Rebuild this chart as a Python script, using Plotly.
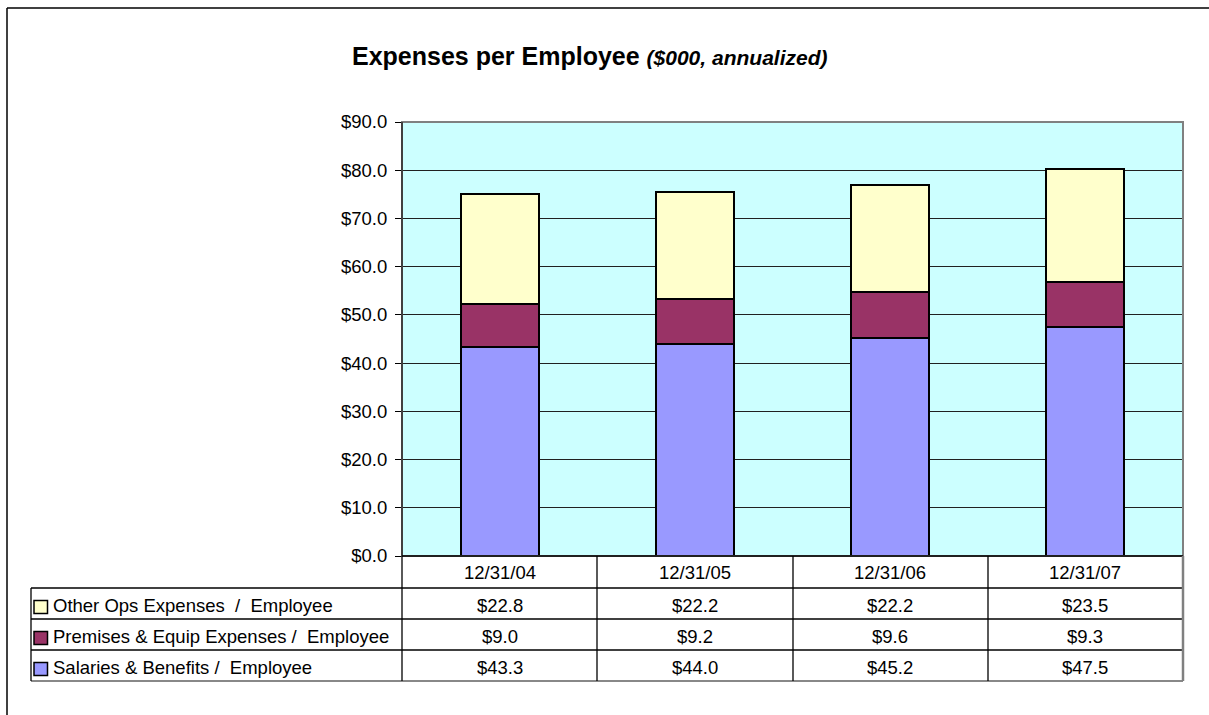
import plotly.graph_objects as go

# Expense components per employee ($000, annualized)
periods = ["12/31/04", "12/31/05", "12/31/06", "12/31/07"]
salaries = [43.3, 44.0, 45.2, 47.5]
premises = [9.0, 9.2, 9.6, 9.3]
other_ops = [22.8, 22.2, 22.2, 23.5]

series_names = [
    "Other Ops Expenses&nbsp; /&nbsp; Employee",
    "Premises &amp; Equip Expenses /&nbsp; Employee",
    "Salaries &amp; Benefits /&nbsp; Employee",
]
series_values = [other_ops, premises, salaries]
series_colors = ["#FFFFCC", "#993366", "#9999FF"]

y_ticks = [0, 10, 20, 30, 40, 50, 60, 70, 80, 90]

W, H = 1209, 715
PL, PR, PT, PB = 402, 1183, 122, 556   # plot-area box in pixels
FONT = "Arial, Liberation Sans, sans-serif"
FS = 18.5


def fx(px):
    return (px - PL) / (PR - PL)


def fy(py):
    return (PB - py) / (PB - PT)


fig = go.Figure()
# stacked bars, bottom to top
for name, vals, col in zip(series_names[::-1], series_values[::-1], series_colors[::-1]):
    fig.add_trace(go.Bar(
        x=periods, y=vals, name=name, width=0.4,
        marker=dict(color=col, line=dict(color="black", width=2)),
        hoverinfo="y",
    ))

shapes = []
annotations = []

# plot-area frame (top/right grey) and left axis
shapes.append(dict(type="rect", xref="paper", yref="paper", x0=0, x1=1, y0=0, y1=1,
                   line=dict(color="#808080", width=2), layer="above"))
shapes.append(dict(type="line", xref="paper", yref="paper", x0=0, x1=0, y0=0, y1=1,
                   line=dict(color="#404040", width=2), layer="above"))

# data table grid
row_edges = [556, 588, 619, 650, 681]
col_edges = [402, 597, 793, 988, 1183]
line_k = dict(color="black", width=1.3)
for i, ry in enumerate(row_edges):
    x0 = PL if i == 0 else 31
    shapes.append(dict(type="line", xref="paper", yref="paper",
                       x0=fx(x0), x1=fx(PR), y0=fy(ry), y1=fy(ry),
                       line=dict(color="#606060" if i == len(row_edges) - 1 else "black", width=1.5)))
for cx in col_edges[:-1]:
    shapes.append(dict(type="line", xref="paper", yref="paper",
                       x0=fx(cx), x1=fx(cx), y0=fy(556), y1=fy(681), line=line_k))
shapes.append(dict(type="line", xref="paper", yref="paper",
                   x0=fx(PR), x1=fx(PR), y0=fy(556), y1=fy(681),
                   line=dict(color="#808080", width=2.5)))
shapes.append(dict(type="line", xref="paper", yref="paper",
                   x0=fx(31), x1=fx(31), y0=fy(588), y1=fy(681), line=line_k))

# category header row
for i, p in enumerate(periods):
    annotations.append(dict(x=i, xref="x", y=fy((row_edges[0] + row_edges[1]) / 2), yref="paper",
                            text=p, showarrow=False, xanchor="center", yanchor="middle",
                            font=dict(family=FONT, size=FS, color="black")))

# series rows: legend key, name and values
for r, (name, vals, col) in enumerate(zip(series_names, series_values, series_colors)):
    top, bot = row_edges[r + 1], row_edges[r + 2]
    mid = (top + bot) / 2 + 2
    shapes.append(dict(type="rect", xref="paper", yref="paper",
                       x0=fx(34), x1=fx(47.5), y0=fy(mid + 8), y1=fy(mid - 5),
                       fillcolor=col, line=dict(color="black", width=1.5)))
    annotations.append(dict(x=fx(51), xref="paper", y=fy(mid), yref="paper",
                            text=name, showarrow=False, xanchor="left", yanchor="middle",
                            font=dict(family=FONT, size=FS, color="black")))
    for i, v in enumerate(vals):
        annotations.append(dict(x=i, xref="x", y=fy(mid), yref="paper",
                                text=f"${v:.1f}", showarrow=False, xanchor="center", yanchor="middle",
                                font=dict(family=FONT, size=FS, color="black")))

# outer chart border (left and top edges)
shapes.append(dict(type="line", xref="paper", yref="paper",
                   x0=fx(7), x1=fx(7), y0=fy(8), y1=fy(H + 5),
                   line=dict(color="black", width=1.5)))
shapes.append(dict(type="line", xref="paper", yref="paper",
                   x0=fx(7), x1=fx(W + 5), y0=fy(8), y1=fy(8),
                   line=dict(color="black", width=1.5)))

# title
annotations.append(dict(
    x=fx(589), xref="paper", y=fy(56), yref="paper", showarrow=False,
    xanchor="center", yanchor="middle",
    text="<b>Expenses per Employee</b> <b><i><span style='font-size:21px'>($000, annualized)</span></i></b>",
    font=dict(family=FONT, size=25, color="black"),
))

fig.update_layout(
    width=W, height=H,
    margin=dict(l=PL, r=W - PR, t=PT, b=H - PB, pad=0),
    paper_bgcolor="white", plot_bgcolor="#CCFFFF",
    barmode="stack", bargap=0.6, showlegend=False,
    shapes=shapes, annotations=annotations,
    font=dict(family=FONT, size=FS, color="black"),
    xaxis=dict(type="category", range=[-0.5, 3.5], showticklabels=False,
               showgrid=False, zeroline=False, showline=False, ticks="", fixedrange=True),
    yaxis=dict(range=[0, 90], tickvals=y_ticks, ticktext=[f"${t:.1f}" for t in y_ticks],
               showgrid=True, gridcolor="#202020", gridwidth=1, zeroline=False,
               ticks="outside", ticklen=6, tickcolor="black", tickwidth=1,
               showline=False, tickfont=dict(family=FONT, size=FS, color="black"),
               ticklabelstandoff=4, fixedrange=True),
)

fig.write_html("out.html")
